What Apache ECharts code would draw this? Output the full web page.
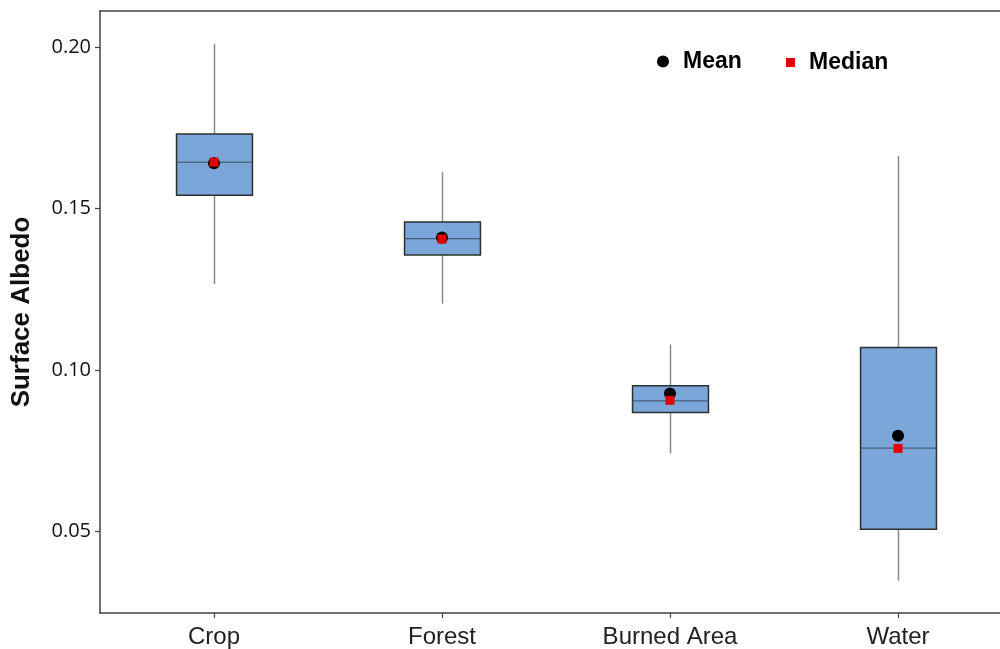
<!DOCTYPE html>
<html>
<head>
<meta charset="utf-8">
<script src="https://cdn.jsdelivr.net/npm/echarts@6/dist/echarts.min.js"></script>
<style>
html,body{margin:0;padding:0;background:#fff;}
#chart{width:1000px;height:649px;}
</style>
</head>
<body>
<div id="chart"></div>
<script>
// Data
const categories = ['Crop', 'Forest', 'Burned Area', 'Water'];
const categoryIndex = [0, 1, 2, 3];
const whiskerLow  = [0.1266, 0.1205, 0.0741, 0.0348];
const q1Values    = [0.1541, 0.1356, 0.0868, 0.0507];
const medianLine  = [0.1643, 0.1406, 0.0904, 0.0758];
const q3Values    = [0.1730, 0.1458, 0.0951, 0.1069];
const whiskerHigh = [0.2010, 0.1612, 0.1079, 0.1662];
const meanValues  = [0.1640, 0.1410, 0.0927, 0.0796];
const medianValues= [0.1643, 0.1405, 0.0906, 0.0757];
const yTicks = [0.05, 0.10, 0.15, 0.20];
const yMin = 0.02475, yMax = 0.2111;
const xMin = -0.5, xMax = 3.4474;

const boxData = categoryIndex.map(i => [i, whiskerLow[i], q1Values[i], medianLine[i], q3Values[i], whiskerHigh[i]]);
const meanData = categoryIndex.map(i => [i, meanValues[i]]);
const medData = categoryIndex.map(i => [i, medianValues[i]]);

const chart = echarts.init(document.getElementById('chart'), null, {renderer: 'canvas'});

function renderBox(params, api) {
  const x = api.value(0);
  const pLo = api.coord([x, api.value(1)]);
  const pQ1 = api.coord([x, api.value(2)]);
  const pMed = api.coord([x, api.value(3)]);
  const pQ3 = api.coord([x, api.value(4)]);
  const pHi = api.coord([x, api.value(5)]);
  const bw = api.size([1, 0])[0] * 0.333;
  const cx = Math.round(pMed[0]) + 0.5;
  const left = cx - bw / 2;
  return {
    type: 'group',
    children: [
      {type: 'line', shape: {x1: cx, y1: pHi[1], x2: cx, y2: pQ3[1]}, style: {stroke: '#8a8a8a', lineWidth: 1.5}},
      {type: 'line', shape: {x1: cx, y1: pQ1[1], x2: cx, y2: pLo[1]}, style: {stroke: '#8a8a8a', lineWidth: 1.5}},
      {type: 'rect', shape: {x: left, y: pQ3[1], width: bw, height: pQ1[1] - pQ3[1]},
        style: {fill: '#7ba6d9', stroke: '#2f2f2f', lineWidth: 1.5}},
      {type: 'line', shape: {x1: left, y1: pMed[1], x2: left + bw, y2: pMed[1]}, style: {stroke: '#3c4a5a', lineWidth: 1}}
    ]
  };
}

chart.setOption({
  animation: false,
  backgroundColor: '#ffffff',
  grid: {left: 100, top: 11, width: 900, height: 603, show: false},
  legend: [
    {
      data: ['Mean'], left: 652, top: 45, icon: 'circle', itemWidth: 12, itemHeight: 12,
      itemStyle: {opacity: 1},
      textStyle: {fontFamily: 'Liberation Sans', fontWeight: 'bold', fontSize: 23, color: '#000', padding: [0, 0, 0, 9]}
    },
    {
      data: ['Median'], left: 781, top: 46, icon: 'rect', itemWidth: 9, itemHeight: 9,
      itemStyle: {opacity: 1},
      textStyle: {fontFamily: 'Liberation Sans', fontWeight: 'bold', fontSize: 23, color: '#000', padding: [0, 0, 0, 9]}
    }
  ],
  xAxis: [
    {
      type: 'value',
      min: xMin,
      max: xMax,
      position: 'bottom',
      axisLine: {show: true, onZero: false, lineStyle: {color: '#444', width: 1.5}},
      axisTick: {show: true, length: 5, customValues: categoryIndex, lineStyle: {color: '#444', width: 1.2}},
      axisLabel: {customValues: categoryIndex, fontFamily: 'Liberation Sans', fontSize: 24, color: '#222', margin: 12,
        formatter: v => categories[Math.round(v)]},
      splitLine: {show: false}
    },
    {
      type: 'value',
      min: xMin,
      max: xMax,
      position: 'top',
      axisLine: {show: true, onZero: false, lineStyle: {color: '#444', width: 1.5}},
      axisTick: {show: false},
      axisLabel: {show: false},
      splitLine: {show: false}
    }
  ],
  yAxis: {
    type: 'value',
    min: yMin,
    max: yMax,
    name: 'Surface Albedo',
    nameLocation: 'middle',
    nameGap: 65,
    nameTextStyle: {fontFamily: 'Liberation Sans', fontWeight: 'bold', fontSize: 26, color: '#111'},
    axisLine: {show: true, onZero: false, lineStyle: {color: '#444', width: 1.5}},
    axisTick: {show: true, length: 5, customValues: yTicks, lineStyle: {color: '#444', width: 1.2}},
    axisLabel: {customValues: yTicks, fontFamily: 'Open Sans', fontSize: 20, color: '#111', margin: 9,
      formatter: v => v.toFixed(2)},
    splitLine: {show: false}
  },
  series: [
    {
      type: 'custom',
      name: 'Box',
      renderItem: renderBox,
      encode: {x: 0, y: [1, 2, 3, 4, 5]},
      data: boxData,
      z: 2
    },
    {
      type: 'scatter',
      name: 'Mean',
      symbol: 'circle',
      symbolSize: 12,
      itemStyle: {color: '#000', opacity: 1},
      data: meanData,
      z: 3
    },
    {
      type: 'scatter',
      name: 'Median',
      symbol: 'rect',
      symbolSize: 9,
      itemStyle: {color: '#e00000', opacity: 1},
      data: medData,
      z: 4
    }
  ]
});
</script>
</body>
</html>
